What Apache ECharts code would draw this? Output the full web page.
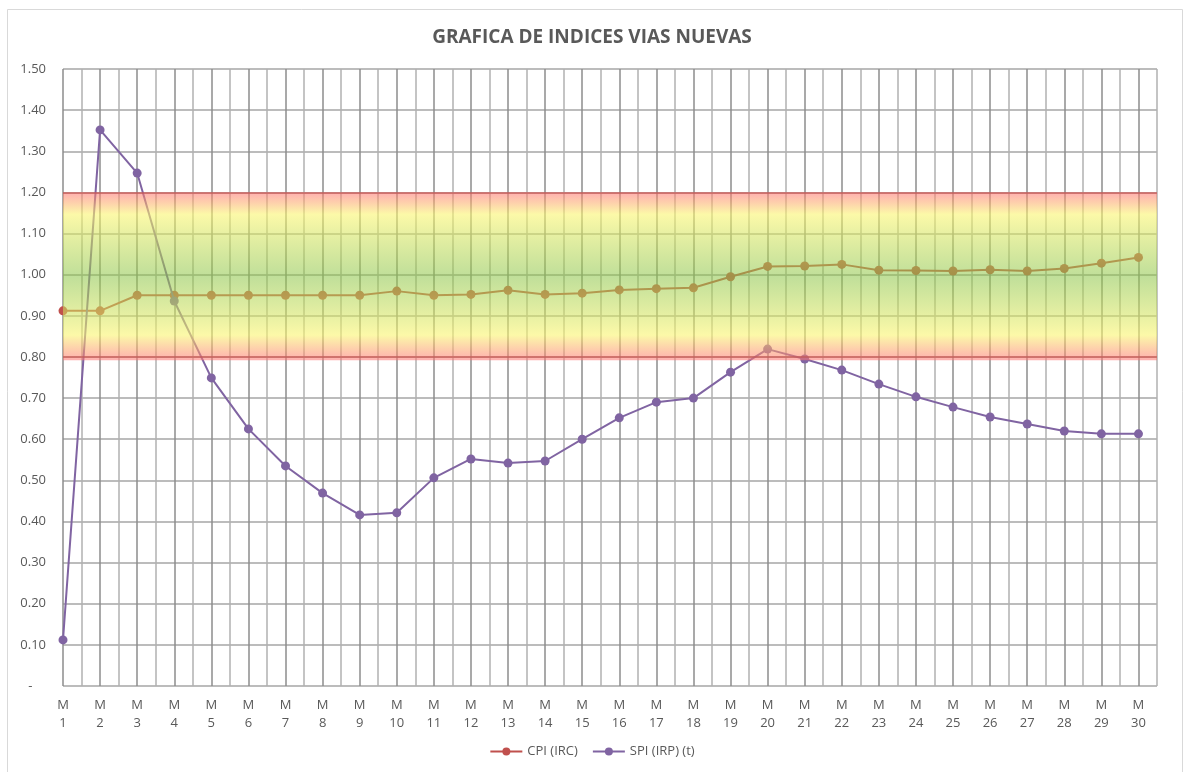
<!DOCTYPE html>
<html>
<head>
<meta charset="utf-8">
<script src="https://cdn.jsdelivr.net/npm/echarts@6/dist/echarts.min.js"></script>
<style>
html,body{margin:0;padding:0;background:#fff;}
#chart{width:1184px;height:772px;}
</style>
</head>
<body>
<div id="chart"></div>
<script>
const periods = ['M 1','M 2','M 3','M 4','M 5','M 6','M 7','M 8','M 9','M 10','M 11','M 12','M 13','M 14','M 15','M 16','M 17','M 18','M 19','M 20','M 21','M 22','M 23','M 24','M 25','M 26','M 27','M 28','M 29','M 30'];
const cpi = [0.912,0.912,0.950,0.950,0.950,0.950,0.950,0.950,0.950,0.960,0.950,0.952,0.962,0.952,0.955,0.963,0.966,0.968,0.995,1.020,1.021,1.025,1.011,1.010,1.009,1.012,1.009,1.015,1.028,1.042];
const spi = [0.112,1.352,1.247,0.936,0.749,0.625,0.535,0.469,0.416,0.421,0.506,0.552,0.542,0.547,0.600,0.652,0.690,0.700,0.763,0.819,0.795,0.768,0.734,0.703,0.678,0.654,0.637,0.620,0.613,0.613];
const bandLow = 0.8;
const bandHigh = 1.2;
const seriesNames = ['CPI (IRC)','SPI (IRP) (t)'];

const toPoints = arr => arr.map((v, i) => [i + 1, v]);
const font = "'Open Sans', sans-serif";

const chart = echarts.init(document.getElementById('chart'));
chart.setOption({
  backgroundColor: '#ffffff',
  animation: false,
  graphic: [{
    type: 'rect',
    shape: {x: 7.5, y: 9.5, width: 1175, height: 790},
    style: {fill: 'none', stroke: '#d9d9d9', lineWidth: 1},
    silent: true
  }],
  title: {
    text: 'GRAFICA DE INDICES VIAS NUEVAS',
    left: 'center',
    top: 23,
    textStyle: {fontFamily: font, fontSize: 19, fontWeight: 'bold', color: '#595959'}
  },
  legend: {
    data: seriesNames,
    bottom: 9,
    left: 'center',
    itemWidth: 32,
    itemHeight: 10,
    itemGap: 14,
    textStyle: {fontFamily: font, fontSize: 13, color: '#595959'}
  },
  grid: {left: 63, right: 27, top: 69, bottom: 86, containLabel: false},
  xAxis: {
    type: 'value',
    min: 1,
    max: 30.5,
    interval: 0.5,
    axisLine: {show: false},
    axisTick: {show: false},
    axisLabel: {
      margin: 10,
      lineHeight: 18,
      fontFamily: font,
      fontSize: 13,
      color: '#595959',
      showMaxLabel: false,
      formatter: v => Number.isInteger(v) ? periods[v - 1].replace(' ', '\n') : ''
    },
    splitLine: {show: true, lineStyle: {color: ['#8c8c8c', '#b0b0b0'], width: 1.5}}
  },
  yAxis: {
    type: 'value',
    min: 0,
    max: 1.5,
    interval: 0.1,
    axisLine: {show: false},
    axisTick: {show: false},
    axisLabel: {
      margin: 17,
      fontFamily: font,
      fontSize: 13,
      color: '#595959',
      formatter: v => Math.abs(v) < 1e-9 ? '-    ' : v.toFixed(2)
    },
    splitLine: {show: true, lineStyle: {color: '#a6a6a6', width: 1.5}}
  },
  series: [
    {
      name: seriesNames[0],
      type: 'line',
      data: toPoints(cpi),
      symbol: 'circle',
      symbolSize: 9,
      color: '#C0504D',
      lineStyle: {width: 2},
      z: 2
    },
    {
      name: seriesNames[1],
      type: 'line',
      data: toPoints(spi),
      symbol: 'circle',
      symbolSize: 9,
      color: '#8064A2',
      lineStyle: {width: 2},
      z: 3
    },
    {
      name: 'band',
      type: 'line',
      data: [],
      z: 10,
      silent: true,
      markArea: {
        silent: true,
        z: 10,
        itemStyle: {
          color: {
            type: 'linear', x: 0, y: 0, x2: 0, y2: 1,
            colorStops: [
              {offset: 0, color: 'rgba(255,110,110,0.55)'},
              {offset: 0.13, color: 'rgba(250,245,110,0.6)'},
              {offset: 0.5, color: 'rgba(140,197,70,0.55)'},
              {offset: 0.85, color: 'rgba(250,245,110,0.6)'},
              {offset: 1, color: 'rgba(255,110,110,0.55)'}
            ]
          }
        },
        data: [[{yAxis: bandHigh}, {yAxis: bandLow - 0.008}]]
      },
      markLine: {
        silent: true,
        z: 11,
        symbol: 'none',
        label: {show: false},
        lineStyle: {color: 'rgba(192,80,77,0.7)', type: 'solid', width: 1.5},
        data: [{yAxis: bandHigh}, {yAxis: bandLow}]
      }
    }
  ]
});
</script>
</body>
</html>
